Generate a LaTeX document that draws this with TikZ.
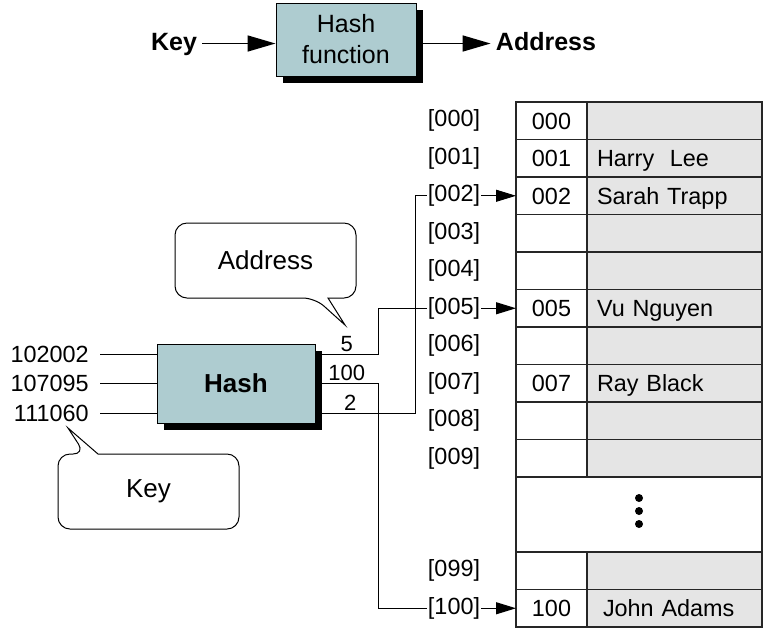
\documentclass[tikz,border=0pt]{standalone}
\usepackage{fontspec}
\setmainfont{Liberation Sans}
\usepackage{tikz}
\usetikzlibrary{arrows.meta, positioning, shadows, calc}
\usepackage{xcolor}
\definecolor{hashteal}{RGB}{174,204,208}
\definecolor{cellgray}{RGB}{229,229,229}
\tikzset{
    % Top pipeline
    toplbl/.style={font=\fontsize{12.5}{15}\selectfont\bfseries, text height=9pt,
                text depth=2.5pt, inner xsep=2.5pt},
    hashbox/.style={rectangle, draw=black, line width=0.5pt, fill=hashteal,
                minimum width=70pt, minimum height=36.5pt, align=center,
                font=\fontsize{12.5}{15.5}\selectfont,
                drop shadow={shadow xshift=3.25pt, shadow yshift=-3.25pt, fill=black, opacity=1}},
    toparrow/.style={-{Triangle[length=14pt, width=8pt]}, line width=0.8pt},
    % Hash block
    hashblk/.style={rectangle, draw=black, line width=0.5pt, fill=hashteal,
                minimum width=79pt, minimum height=39.5pt,
                font=\fontsize{13}{15}\selectfont\bfseries,
                drop shadow={shadow xshift=3.5pt, shadow yshift=-3.5pt, fill=black, opacity=1}},
    keylbl/.style={font=\fontsize{11.7}{14}\selectfont, anchor=east, inner xsep=5.5pt},
    outlbl/.style={font=\fontsize{11}{13}\selectfont, inner sep=1pt, above},
    wire/.style={line width=0.5pt},
    % Callouts
    bubble/.style={minimum width=90.5pt, minimum height=37.5pt, outer sep=0pt,
                font=\fontsize{13}{15}\selectfont},
    bubbleline/.style={line width=0.5pt, fill=white},
    % Table
    idxlbl/.style={font=\fontsize{11.7}{14}\selectfont, inner xsep=0.5pt},
    keycell/.style={rectangle, draw=black!85, line width=0.6pt, outer sep=0pt,
                minimum width=35.5pt, minimum height=18.75pt,
                text height=8.9pt, text depth=0.5pt,
                font=\fontsize{11.7}{14}\selectfont},
    reccell/.style={keycell, fill=cellgray, minimum width=87.5pt,
                text width=77.5pt, inner xsep=5pt, align=left},
    tarrow/.style={-{Triangle[length=10pt, width=6pt]}, line width=0.5pt},
}

\begin{document}
\begin{tikzpicture}[x=0.5pt, y=-0.5pt]
\useasboundingbox (0,0) rectangle (764,629);

% top: key -> hash function -> address
\node[hashbox] (hashfn) at (346,39.5) {Hash\\function};
\node[toplbl] (topkey) at (174,43.5) {Key};
\node[toplbl] (topaddr) at (546,43.5) {Address};
\coordinate (hashout) at ([xshift=3.25pt]hashfn.east);
\draw[toparrow] (topkey.east) -- (topkey.east -| hashfn.west);
\draw[toparrow] (hashout |- topaddr.west) -- (topaddr.west);

% table
\foreach \s/\r/\k/\n in {0/000/000/{}, 1/001/001/{Harry\ \ Lee}, 2/002/002/{Sarah Trapp},
    3/003/{}/{}, 4/004/{}/{}, 5/005/005/{Vu Nguyen}, 6/006/{}/{}, 7/007/007/{Ray Black},
    8/008/{}/{}, 9/009/{}/{}, 12/099/{}/{}, 13/100/100/{\hspace{3pt}John Adams}} {
  \node[idxlbl] (lbl\r) at (454,{120.75+37.5*\s}) {[\r]};
  \node[keycell] (key\r) at (551.5,{120.75+37.5*\s}) {\k};
  \node[reccell] (rec\r) at (674.5,{120.75+37.5*\s}) {\n};
}
\node[keycell, minimum width=123pt, minimum height=37.5pt] (gap) at (639,514.5) {};
\foreach \d in {-16.5,-3.5,9.5}
  \fill ($(gap.center)+(0,\d)$) circle (2pt);

% hash with keys
\node[hashblk] (hash) at (236,383.5) {Hash};
\node[keylbl] (k102002) at (100,354) {102002};
\node[keylbl] (k107095) at (100,383.5) {107095};
\node[keylbl] (k111060) at (100,413) {111060};
\foreach \k in {102002,107095,111060}
  \draw[wire] (k\k.east) -- (k\k.east -| hash.west);

% addresses out
\coordinate (o5) at ([yshift=14.75pt]hash.east);
\coordinate (o100) at (hash.east);
\coordinate (o2) at ([yshift=-14.75pt]hash.east);
\coordinate (bendA) at (378,0);
\coordinate (bendB) at (415,0);
\draw[wire] (o5) -- node[outlbl] {5} (o5 -| bendA) |- (lbl005.west);
\draw[wire] (o100) -- node[outlbl] {100} (o100 -| bendA) |- (lbl100.west);
\draw[wire] (o2) -- node[outlbl, pos=0.35] {2} (o2 -| bendB) |- (lbl002.west);
\foreach \r in {002,005,100}
  \draw[tarrow] (lbl\r.east) -- (key\r.west);

% callouts
\node[bubble] (addrnote) at (265.5,260.5) {Address};
\coordinate (addrtip) at (345,325);
\draw[bubbleline] ($(addrnote.south west)+(153,0)$) [rounded corners=6pt]
  -- (addrnote.south east) -- (addrnote.north east) -- (addrnote.north west)
  -- (addrnote.south west) -- ($(addrnote.south west)+(140,0)$) [sharp corners]
  -- (addrtip) -- cycle;
\node at (addrnote.center) [bubble] {Address};

\node[bubble] (keynote) at (148.5,491.5) {Key};
\coordinate (keytip) at (68,428);
\draw[bubbleline] ($(keynote.north west)+(40,0)$) [rounded corners=6pt]
  -- (keynote.north east) -- (keynote.south east) -- (keynote.south west)
  -- (keynote.north west) -- ($(keynote.north west)+(27,0)$) [sharp corners]
  -- (keytip) -- cycle;
\node at (keynote.center) [bubble] {Key};
\end{tikzpicture}
\end{document}
